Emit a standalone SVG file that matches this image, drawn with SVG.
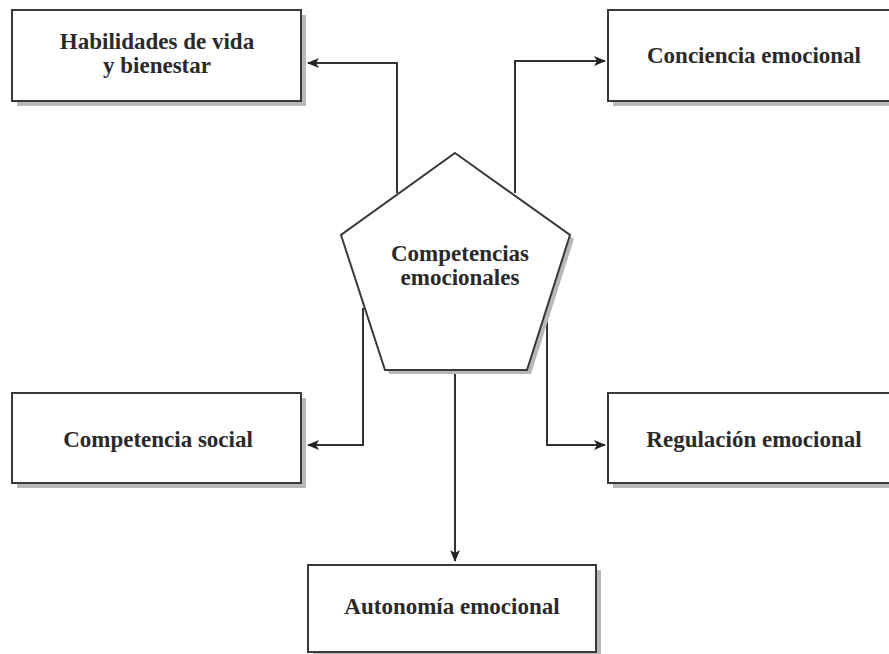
<svg xmlns="http://www.w3.org/2000/svg" width="889" height="654" viewBox="0 0 889 654">
<style>
.box{fill:#fff;stroke:#3a3a3a;stroke-width:2}
.shadow{fill:#b8b8bc;stroke:none}
.lbl{font-family:"Liberation Serif","DejaVu Serif",serif;font-weight:bold;font-size:23px;fill:#2a2a2a;text-anchor:middle}
.conn{fill:none;stroke:#333;stroke-width:2}
</style>
<defs>
<marker id="arr" viewBox="0 0 12 10" refX="11" refY="5" markerWidth="12" markerHeight="10" markerUnits="userSpaceOnUse" orient="auto">
<path d="M0,0 L12,5 L0,10 L3,5 z" fill="#222"/>
</marker>
</defs>
<rect width="889" height="654" fill="#fff"/>
<g id="connectors">
<polyline class="conn" points="397,193 397,63 308,63" marker-end="url(#arr)"/>
<polyline class="conn" points="515,193 515,61 605,61" marker-end="url(#arr)"/>
<polyline class="conn" points="363,308 363,445 308,445" marker-end="url(#arr)"/>
<polyline class="conn" points="547,308 547,445 605,445" marker-end="url(#arr)"/>
<polyline class="conn" points="455,370 455,561" marker-end="url(#arr)"/>
</g>
<g id="center">
<polygon class="shadow" points="459,157 574,239 531,374 389,374 345,239"/>
<polygon class="box" points="455,153 570,235 527,370 385,370 341,235"/>
<text class="lbl" x="460" y="261">Competencias</text>
<text class="lbl" x="460" y="285">emocionales</text>
</g>
<g id="habilidades">
<rect class="shadow" x="17" y="15" width="289" height="91"/>
<rect class="box" x="12" y="10" width="289" height="91"/>
<text class="lbl" x="157" y="49">Habilidades de vida</text>
<text class="lbl" x="157" y="73">y bienestar</text>
</g>
<g id="conciencia">
<rect class="shadow" x="613" y="15" width="289" height="91"/>
<rect class="box" x="608" y="10" width="289" height="91"/>
<text class="lbl" x="754" y="63">Conciencia emocional</text>
</g>
<g id="social">
<rect class="shadow" x="17" y="398" width="289" height="90"/>
<rect class="box" x="12" y="393" width="289" height="90"/>
<text class="lbl" x="158" y="447">Competencia social</text>
</g>
<g id="regulacion">
<rect class="shadow" x="613" y="398" width="289" height="90"/>
<rect class="box" x="608" y="393" width="289" height="90"/>
<text class="lbl" x="754" y="447">Regulación emocional</text>
</g>
<g id="autonomia">
<rect class="shadow" x="313" y="570" width="288" height="90"/>
<rect class="box" x="308" y="565" width="288" height="87"/>
<text class="lbl" x="452" y="614">Autonomía emocional</text>
</g>
</svg>
